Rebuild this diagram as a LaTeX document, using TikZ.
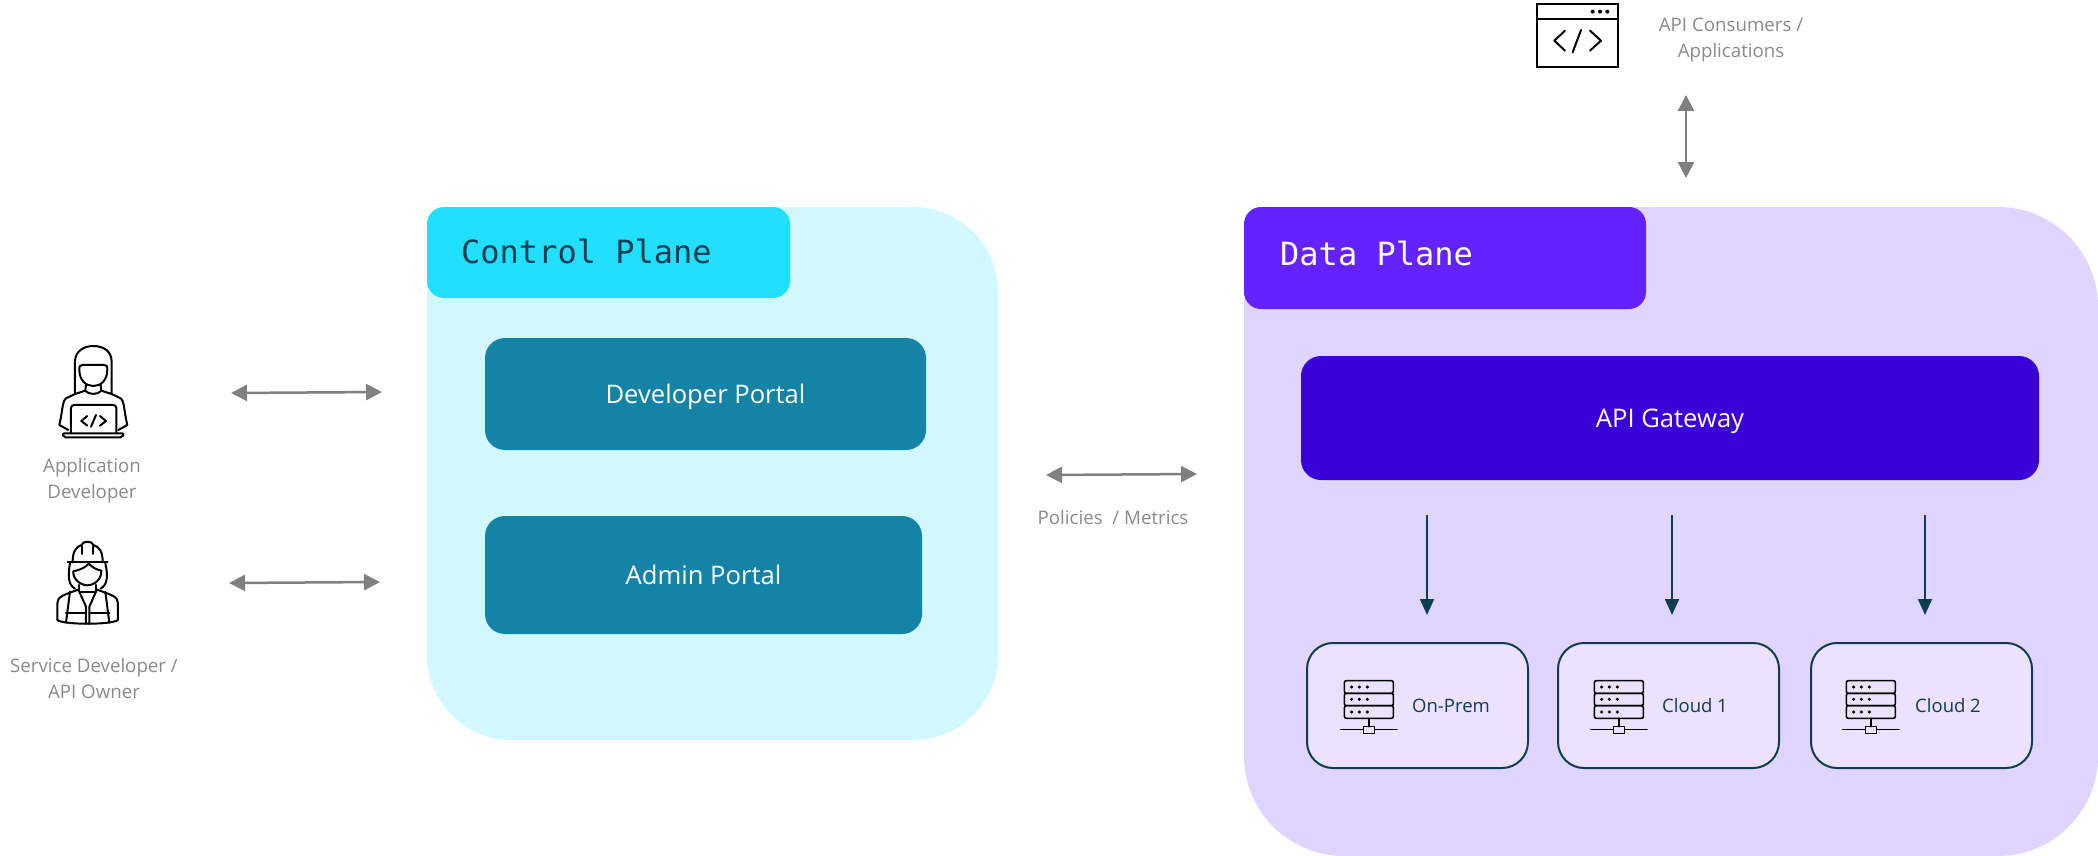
\documentclass[tikz,border=0pt]{standalone}
\usepackage{fontspec}
\setmainfont{Open Sans}
\newfontfamily\planefont{DejaVu Sans Mono}
\usetikzlibrary{arrows.meta}
\definecolor{cplight}{HTML}{D1F8FF}
\definecolor{cptab}{HTML}{22DFFF}
\definecolor{cpbox}{HTML}{1583A6}
\definecolor{dplight}{HTML}{DFD5FF}
\definecolor{dptab}{HTML}{6422FF}
\definecolor{dpgate}{HTML}{3A00D8}
\definecolor{dpbox}{HTML}{ECE2FF}
\definecolor{inkdark}{HTML}{0F3D52}
\definecolor{arrowgray}{HTML}{808080}
\definecolor{labelgray}{HTML}{8A8A8A}
\tikzset{
  panel/.style={anchor=north west,inner sep=0pt,outer sep=0pt,rounded corners=#1},
  portal/.style={panel=20pt,fill=cpbox},
  portaltext/.style={inner sep=0pt,text=white,font=\fontsize{25.6}{30}\selectfont},
  sitebox/.style={panel=26pt,fill=dpbox,draw=inkdark,line width=2pt,minimum width=221pt,minimum height=125pt},
  sitelabel/.style={anchor=west,inner sep=0pt,text=inkdark,font=\fontsize{18.5}{24}\selectfont},
  graylabel/.style={align=center,inner sep=0pt,text=labelgray,font=\fontsize{18.7}{26}\selectfont},
  planelabel/.style={anchor=west,inner sep=0pt,font=\planefont\fontsize{32}{36}\selectfont},
  twoway/.style={{Triangle[length=16pt,width=16pt]}-{Triangle[length=16pt,width=16pt]},draw=arrowgray,fill=arrowgray,line width=2.5pt},
  oneway/.style={-{Triangle[length=16pt,width=14pt]},draw=inkdark,fill=inkdark,line width=1.8pt},
  icon/.style={draw=black,line width=2pt,line cap=round,line join=round},
  thinicon/.style={draw=black,line width=1.6pt,line cap=round,line join=round},
}
\newcommand{\servericon}[1]{%
  \begin{scope}[shift={(#1,630)},x=0.3333pt,y=-0.3333pt]
    \draw[thinicon,rounded corners=2pt] (163,152) rectangle (310,190);
    \draw[thinicon,rounded corners=2pt] (163,190) rectangle (310,227);
    \draw[thinicon,rounded corners=2pt] (163,227) rectangle (310,265);
    \foreach \yy in {171,208,246}{\foreach \xx in {185,208,232}{\fill[black] (\xx,\yy) circle (1.7pt);}}
    \draw[thinicon] (237,265) -- (237,290);
    \draw[thinicon] (152,298) -- (220,298) (254,298) -- (321,298);
    \draw[thinicon] (220,290) rectangle (254,310);
  \end{scope}}
\begin{document}
\begin{tikzpicture}[x=1pt,y=-1pt]
\useasboundingbox (0,0) rectangle (2098,856);
% planes
\node[panel=85pt,fill=cplight,minimum width=571pt,minimum height=533pt] (cpbg) at (427,207) {};
\node[panel=17pt,fill=cptab,minimum width=363pt,minimum height=91pt] (cptabn) at (427,207) {};
\node[planelabel,text=inkdark] (cptitle) at (461,251) {Control Plane};
\node[panel=100pt,fill=dplight,minimum width=854pt,minimum height=649pt] (dpbg) at (1244,207) {};
\node[panel=17pt,fill=dptab,minimum width=402pt,minimum height=102pt] (dptabn) at (1244,207) {};
\node[planelabel,text=white] (dptitle) at (1280,253) {Data Plane};
% boxes
\node[portal,minimum width=441pt,minimum height=112pt] (devportal) at (485,338) {};
\node[portaltext] (devportaltext) at (705.5,397) {Developer Portal};
\node[portal,minimum width=437pt,minimum height=118pt] (adminportal) at (485,516) {};
\node[portaltext] (adminportaltext) at (703.5,575) {Admin Portal};
\node[portal,fill=dpgate,minimum width=738pt,minimum height=124pt] (gateway) at (1301,356) {};
\node[portaltext] (gatewaytext) at (1670,421) {API Gateway};
\node[sitebox] (onprem) at (1307,643) {};
\node[sitebox] (cloudone) at (1558,643) {};
\node[sitebox] (cloudtwo) at (1811,643) {};
\node[sitelabel] (onpremtext) at (1412,705.5) {On-Prem};
\node[sitelabel] (cloudonetext) at (1662,705.5) {Cloud 1};
\node[sitelabel] (cloudtwotext) at (1915,705.5) {Cloud 2};
\servericon{1290}
\servericon{1540}
\servericon{1792}
% labels
\node[graylabel] (appdev) at (92,481) {Application\\Developer};
\node[graylabel] (svcdev) at (94,678) {Service Developer /\\API Owner};
\node[graylabel] (consumers) at (1731,39.5) {API Consumers /\\Applications};
\node[graylabel] (policies) at (1113,517) {Policies\ \ / Metrics};
% arrows
\coordinate (a1l) at (231,393); \coordinate (a1r) at (382,392);
\coordinate (a2l) at (229,583); \coordinate (a2r) at (380,582);
\coordinate (a3l) at (1046,475); \coordinate (a3r) at (1197,474);
\coordinate (a4t) at (1686,95); \coordinate (a4b) at (1686,178);
\draw[twoway] (a1l) -- (a1r);
\draw[twoway] (a2l) -- (a2r);
\draw[twoway] (a3l) -- (a3r);
\draw[twoway] (a4t) -- (a4b);
\coordinate (d1t) at (1427,515); \coordinate (d1b) at (1427,615);
\coordinate (d2t) at (1672,515); \coordinate (d2b) at (1672,615);
\coordinate (d3t) at (1925,515); \coordinate (d3b) at (1925,615);
\draw[oneway] (d1t) -- (d1b);
\draw[oneway] (d2t) -- (d2b);
\draw[oneway] (d3t) -- (d3b);
% window icon
\begin{scope}[shift={(1500,0)},x=0.3333pt,y=-0.3333pt]
  \draw[icon,line join=miter] (112,13) rectangle (353,200);
  \draw[icon,line cap=butt] (112,57) -- (353,57);
  \foreach \xx in {278,300,322}{\fill[black] (\xx,35) circle (2pt);}
  \draw[icon] (195,92) -- (163,122) -- (195,152);
  \draw[icon] (243,90) -- (218,157);
  \draw[icon] (270,92) -- (303,122) -- (270,152);
\end{scope}
% application developer icon
\begin{scope}[shift={(0,320)},x=0.3333pt,y=-0.3333pt]
  \draw[icon] (225,218) -- (225,125) .. controls (225,95) and (250,78) .. (280,78) .. controls (312,78) and (335,95) .. (335,125) -- (335,218);
  \draw[icon] (238,148) .. controls (238,138) and (240,135) .. (248,135) -- (312,135) .. controls (320,135) and (322,138) .. (322,148) .. controls (322,182) and (302,198) .. (280,198) .. controls (258,198) and (238,182) .. (238,148);
  \draw[icon] (258,195) -- (256,212) -- (225,222) -- (198,235) .. controls (186,245) and (188,275) .. (178,315) -- (205,330);
  \draw[icon] (302,195) -- (304,212) -- (335,222) -- (362,235) .. controls (374,245) and (372,275) .. (382,315) -- (355,330);
  \draw[icon] (256,212) .. controls (265,225) and (295,225) .. (304,212);
  \draw[icon,rounded corners=3pt] (213,340) -- (213,255) -- (349,255) -- (349,340);
  \draw[icon,rounded corners=2pt] (187,340) -- (372,340) -- (368,352) -- (191,352) -- cycle;
  \draw[icon] (262,288) -- (244,303) -- (262,317);
  \draw[icon] (288,285) -- (273,320);
  \draw[icon] (300,288) -- (318,303) -- (300,317);
\end{scope}
% service developer icon
\begin{scope}[shift={(0,320)},x=0.3333pt,y=-0.3333pt]
  \draw[icon] (203,725) -- (323,725);
  \draw[icon] (218,725) .. controls (218,695) and (228,680) .. (245,675) .. controls (246,662) and (278,662) .. (280,675) .. controls (298,680) and (308,695) .. (308,725);
  \draw[icon] (247,680) -- (247,702) (278,680) -- (278,702);
  \draw[icon] (220,754) .. controls (240,750) and (258,742) .. (266,731) .. controls (276,742) and (292,750) .. (304,752);
  \draw[icon] (220,754) .. controls (218,780) and (245,796) .. (262,796) .. controls (280,796) and (306,780) .. (304,752);
  \draw[icon] (210,730) .. controls (203,770) and (205,795) .. (225,806);
  \draw[icon] (316,730) .. controls (325,770) and (322,795) .. (302,806);
  \draw[icon] (172,900) -- (172,850) .. controls (172,830) and (190,825) .. (238,808);
  \draw[icon] (354,900) -- (354,850) .. controls (354,830) and (336,825) .. (288,808);
  \draw[icon] (172,900) .. controls (190,915) and (336,915) .. (354,900);
  \draw[icon] (238,795) -- (238,815) (288,795) -- (288,815) (238,815) -- (288,815);
  \draw[icon] (210,815) -- (198,908) (316,815) -- (328,908);
  \draw[icon] (238,815) -- (258,860) -- (258,912) (288,815) -- (268,860) -- (268,912);
  \draw[icon] (198,880) -- (258,880) (268,880) -- (328,880);
\end{scope}
\end{tikzpicture}
\end{document}
